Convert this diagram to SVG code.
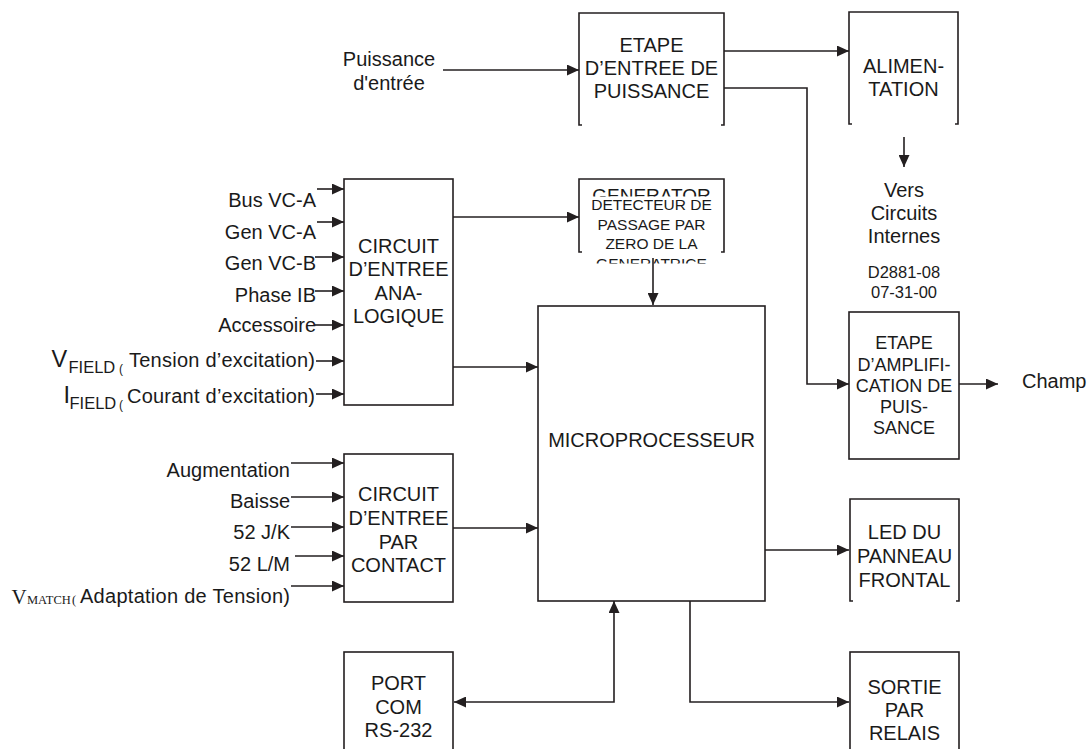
<svg xmlns="http://www.w3.org/2000/svg" width="1091" height="749" viewBox="0 0 1091 749">
<style>
.box{fill:#fff;stroke:#231f20;stroke-width:1.6}
.br{fill:none;stroke:#231f20;stroke-width:1.6}
.ln{fill:none;stroke:#231f20;stroke-width:1.6;marker-end:url(#ah)}
text{font-family:"Liberation Sans",Arial,sans-serif;fill:#1a1a1a}
.c{font-size:20px;text-anchor:middle}
.m{font-size:15.5px;text-anchor:middle}
.a{font-size:18px;text-anchor:middle}
.s{font-size:16.5px;text-anchor:middle}
.r{font-size:20px;text-anchor:end}
.l{font-size:20px}
.sub{font-size:16.5px}
.serif{font-family:"Liberation Serif","Times New Roman",serif}
</style>
<defs>
<marker id="ah" viewBox="0 0 12 11" refX="12" refY="5.5" markerWidth="12" markerHeight="11" markerUnits="userSpaceOnUse" orient="auto"><path d="M0,0 L12,5.5 L0,11 z" fill="#231f20"/></marker>
<marker id="ahs" viewBox="0 0 12 11" refX="12" refY="5.5" markerWidth="12" markerHeight="11" markerUnits="userSpaceOnUse" orient="auto-start-reverse"><path d="M0,0 L12,5.5 L0,11 z" fill="#231f20"/></marker>
<clipPath id="cpGen"><rect x="580" y="180" width="143" height="16.5"/></clipPath>
<clipPath id="cpGen2"><rect x="580" y="255" width="143" height="8.5"/></clipPath>
</defs>

<g id="connectors">
<path class="ln" d="M443,70 H579"/>
<path class="ln" d="M724,51 H849"/>
<path class="ln" d="M724,88 H807 V384 H849"/>
<path class="ln" d="M904,137 V167"/>
<path class="ln" d="M959,384 H998"/>
<path class="ln" d="M317,189 H344"/>
<path class="ln" d="M317,222 H344"/>
<path class="ln" d="M315,257 H344"/>
<path class="ln" d="M315,291 H344"/>
<path class="ln" d="M315,325 H344"/>
<path class="ln" d="M316,361 H344"/>
<path class="ln" d="M316,394 H344"/>
<path class="ln" d="M453,217 H579"/>
<path class="ln" d="M453,367 H538"/>
<path class="ln" d="M653,258 V305"/>
<path class="ln" d="M291,463 H344"/>
<path class="ln" d="M291,497 H344"/>
<path class="ln" d="M291,527 H344"/>
<path class="ln" d="M295,556 H344"/>
<path class="ln" d="M291,586 H344"/>
<path class="ln" d="M453,528 H538"/>
<path class="ln" d="M765,550 H849"/>
<path class="ln" d="M614,601 V702 H454" style="marker-start:url(#ahs)"/>
<path class="ln" d="M690,601 V702 H849"/>
</g>

<g id="label-puissance">
<text class="c" x="389" y="66">Puissance</text>
<text class="c" x="389" y="90">d'entrée</text>
</g>

<g id="node-etape-entree">
<path class="br" d="M582,125 H579 V13 H724 V125 H721"/>
<text class="c" x="651.5" y="52">ETAPE</text>
<text class="c" x="651.5" y="75">D’ENTREE DE</text>
<text class="c" x="651.5" y="98">PUISSANCE</text>
</g>

<g id="node-alimentation">
<path class="br" d="M852,124 H849 V12 H958 V124 H955"/>
<text class="c" x="903.5" y="73">ALIMEN-</text>
<text class="c" x="903.5" y="96">TATION</text>
</g>

<g id="label-vers">
<text class="c" x="904" y="197">Vers</text>
<text class="c" x="904" y="220">Circuits</text>
<text class="c" x="904" y="243">Internes</text>
<text class="s" x="904" y="278">D2881-08</text>
<text class="s" x="904" y="298">07-31-00</text>
</g>

<g id="node-generator">
<path class="br" d="M582,252 H579 V179 H724 V252 H721"/>
<text x="651.5" y="201.5" clip-path="url(#cpGen)" style="font-size:19px;text-anchor:middle">GENERATOR</text>
<text class="m" x="651.5" y="210">DETECTEUR DE</text>
<text class="m" x="651.5" y="230">PASSAGE PAR</text>
<text class="m" x="651.5" y="249">ZERO DE LA</text>
<text class="m" x="651.5" y="268.5" clip-path="url(#cpGen2)">GENERATRICE</text>
</g>

<g id="node-analog">
<rect class="box" x="344" y="179" width="109" height="226"/>
<text class="c" x="398.5" y="253">CIRCUIT</text>
<text class="c" x="398.5" y="276">D’ENTREE</text>
<text class="c" x="398.5" y="299.5">ANA-</text>
<text class="c" x="398.5" y="323">LOGIQUE</text>
</g>

<g id="labels-analog">
<text class="r" x="316" y="206.5">Bus VC-A</text>
<text class="r" x="316" y="238.5">Gen VC-A</text>
<text class="r" x="316" y="270">Gen VC-B</text>
<text class="r" x="316" y="301.5">Phase IB</text>
<text class="r" x="316" y="332">Accessoire</text>
<text x="51.5" y="367" style="font-size:23.5px">V</text>
<text class="sub" x="68.5" y="372.5">FIELD</text>
<text x="119" y="372.5" style="font-size:12px">(</text>
<text class="l" x="129" y="367" textLength="186" lengthAdjust="spacing">Tension d’excitation)</text>
<text x="63.5" y="403" style="font-size:23.5px">I</text>
<text class="sub" x="69.5" y="408.5">FIELD</text>
<text x="119" y="408.5" style="font-size:12px">(</text>
<text class="l" x="127" y="403" textLength="188" lengthAdjust="spacing">Courant d’excitation)</text>
</g>

<g id="node-micro">
<rect class="box" x="538" y="306" width="227" height="295"/>
<text class="c" x="651.5" y="447">MICROPROCESSEUR</text>
</g>

<g id="node-ampli">
<rect class="box" x="849" y="312" width="110" height="147"/>
<text class="a" x="904" y="349">ETAPE</text>
<text class="a" x="904" y="370.5">D’AMPLIFI-</text>
<text class="a" x="904" y="391.5">CATION DE</text>
<text class="a" x="904" y="412.5">PUIS-</text>
<text class="a" x="904" y="433.5">SANCE</text>
</g>

<g id="label-champ">
<text x="1022" y="388" style="font-size:20px">Champ</text>
</g>

<g id="node-contact">
<rect class="box" x="344" y="454" width="109" height="148"/>
<text class="c" x="398.5" y="501">CIRCUIT</text>
<text class="c" x="398.5" y="525">D’ENTREE</text>
<text class="c" x="398.5" y="548.5">PAR</text>
<text class="c" x="398.5" y="572">CONTACT</text>
</g>

<g id="labels-contact">
<text class="r" x="290" y="476.5">Augmentation</text>
<text class="r" x="290" y="508">Baisse</text>
<text class="r" x="290" y="539">52 J/K</text>
<text class="r" x="290" y="570.5">52 L/M</text>
<text class="serif" x="11.5" y="603.5" style="font-size:21px">V</text>
<text class="serif" x="27" y="604" style="font-size:12.5px">MATCH</text>
<text class="serif" x="72" y="604" style="font-size:12.5px">(</text>
<text class="l" x="80" y="603" textLength="210" lengthAdjust="spacing">Adaptation de Tension)</text>
</g>

<g id="node-rs232">
<rect class="box" x="344" y="652" width="109" height="110"/>
<text class="c" x="398.5" y="690">PORT</text>
<text class="c" x="398.5" y="713.5">COM</text>
<text class="c" x="398.5" y="737">RS-232</text>
</g>

<g id="node-led">
<path class="br" d="M853,601 H850 V499 H959 V601 H956"/>
<text class="c" x="904.5" y="538.5">LED DU</text>
<text class="c" x="904.5" y="563">PANNEAU</text>
<text class="c" x="904.5" y="587">FRONTAL</text>
</g>

<g id="node-relais">
<rect class="box" x="850" y="652" width="109" height="110"/>
<text class="c" x="904.5" y="693.5">SORTIE</text>
<text class="c" x="904.5" y="717">PAR</text>
<text class="c" x="904.5" y="740">RELAIS</text>
</g>
</svg>
